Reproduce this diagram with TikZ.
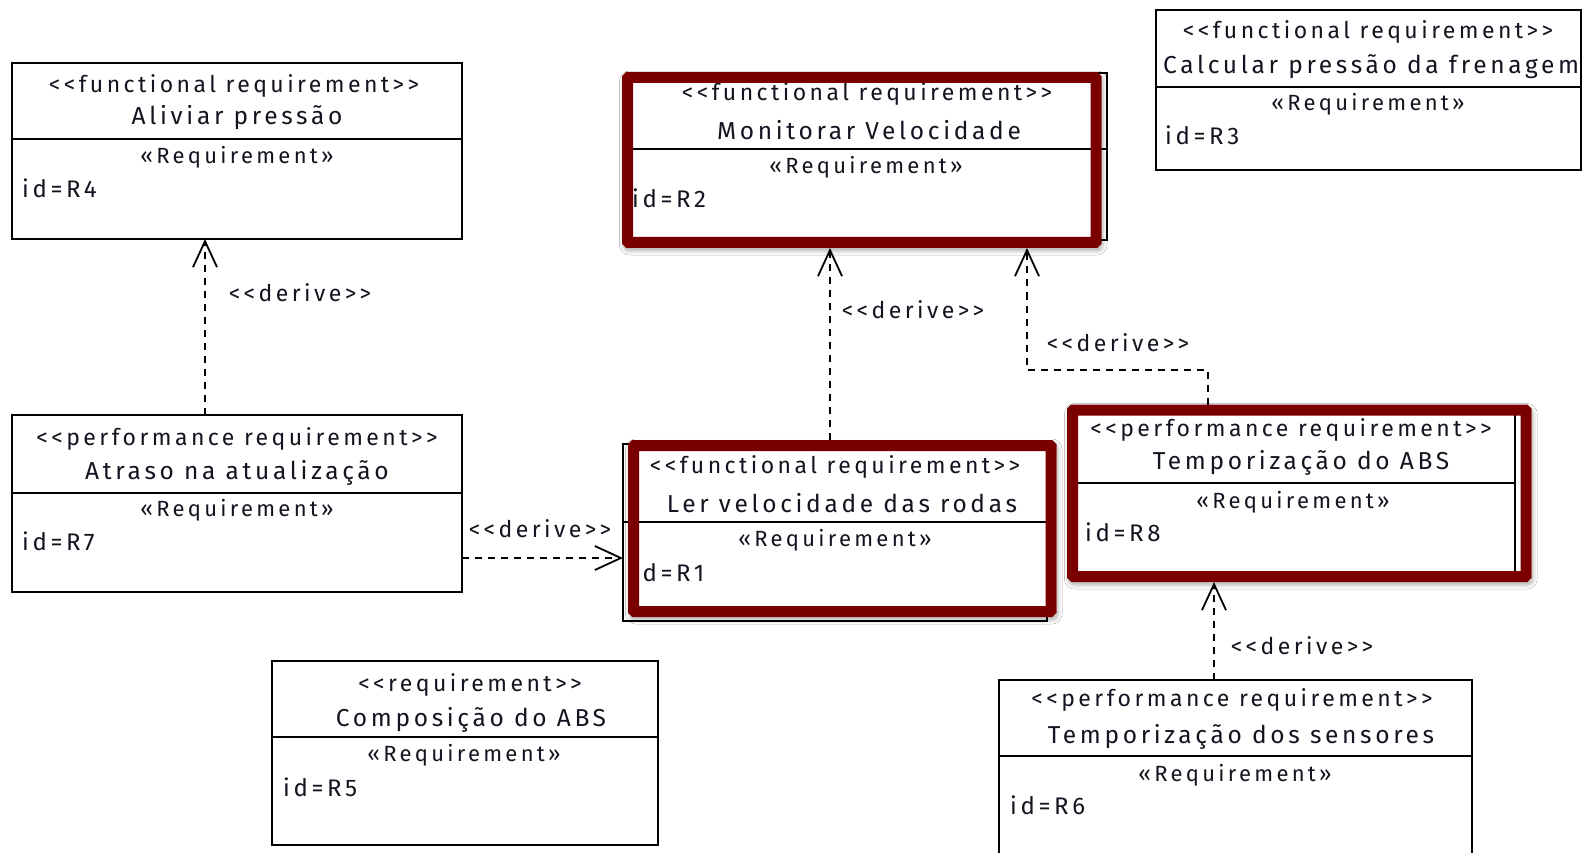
\documentclass[tikz,border=0pt]{standalone}
\usepackage{fontspec}
\setmainfont{Fira Sans}[Ligatures=TeXOff, LetterSpace=15]
\usetikzlibrary{arrows.meta,shadows.blur}
\definecolor{ink}{RGB}{20,20,32}
\definecolor{hlred}{RGB}{122,0,0}
\tikzset{
  reqbox/.style={draw=black, line width=1.8pt, rectangle, inner sep=0pt, outer sep=0pt, anchor=north west},
  boxline/.style={draw=black, line width=1.8pt},
  hlarea/.style={rectangle, fill=white, rounded corners=6pt, inner sep=0pt, outer sep=0pt, anchor=north west,
    blur shadow={shadow xshift=1.5pt, shadow yshift=-3pt, shadow blur radius=4pt, shadow opacity=30}},
  hlframe/.style={draw=hlred, line width=11pt, rounded corners=1pt},
  stereo/.style={text=ink, font=\fontsize{23}{25}\selectfont, inner sep=0pt},
  rtitle/.style={text=ink, font=\fontsize{24.5}{28}\selectfont, inner sep=0pt},
  rkind/.style={text=ink, font=\fontsize{22}{24}\selectfont, inner sep=0pt},
  rid/.style={text=ink, font=\fontsize{24}{26}\selectfont, inner sep=0pt, anchor=west},
  dlabel/.style={text=ink, font=\fontsize{23}{25}\selectfont, inner sep=0pt},
  derive/.style={draw=black, line width=1.8pt, dash pattern=on 7pt off 6pt,
    -{Straight Barb[length=26pt, width=24pt, line width=1.8pt]}},
}
\begin{document}
\begin{tikzpicture}[x=1pt, y=-1pt]
\clip (0,0) rectangle (1583,853);
\fill[white] (0,0) rectangle (1583,853);

% white areas with soft shadows under the highlighted requirements
\node[hlarea, minimum width=479.5pt, minimum height=176pt] (hl2) at (622,72) {};
\node[hlarea, minimum width=428.5pt, minimum height=177pt] (hl1) at (628,440) {};
\node[hlarea, minimum width=464.5pt, minimum height=177.5pt] (hl8) at (1067,404.5) {};

% R4 Aliviar pressao
\node[reqbox, minimum width=450pt, minimum height=176pt] (r4) at (12,63) {};
\draw[boxline] (r4.west |- 0,139) -- (r4.east |- 0,139);
\node[stereo] (r4s) at (234,86) {<<functional requirement>>};
\node[rtitle] (r4t) at (237,118) {Aliviar pressão};
\node[rkind] (r4q) at (237,157) {«Requirement»};
\node[rid] (r4i) at (22,188) {id=R4};

% R2 Monitorar Velocidade
\node[reqbox, minimum width=479pt, minimum height=167pt] (r2) at (628,73) {};
\draw[boxline] (r2.west |- 0,149) -- (r2.east |- 0,149);
\node[stereo] (r2s) at (867,94) {<<functional requirement>>};
\node[rtitle] (r2t) at (869,130) {Monitorar Velocidade};
\node[rkind] (r2q) at (866,167) {«Requirement»};
\node[rid] (r2i) at (632,198) {id=R2};

% R3 Calcular pressao da frenagem
\node[reqbox, minimum width=425pt, minimum height=160pt] (r3) at (1156,10) {};
\draw[boxline] (r3.west |- 0,87) -- (r3.east |- 0,87);
\node[stereo] (r3s) at (1368,32) {<<functional requirement>>};
\node[rtitle, anchor=west] (r3t) at (1163,67) {Calcular pressão da frenagem};
\node[rkind] (r3q) at (1368,104) {«Requirement»};
\node[rid] (r3i) at (1165,135) {id=R3};

% R7 Atraso na atualizacao
\node[reqbox, minimum width=450pt, minimum height=177pt] (r7) at (12,415) {};
\draw[boxline] (r7.west |- 0,493) -- (r7.east |- 0,493);
\node[stereo] (r7s) at (237,439) {<<performance requirement>>};
\node[rtitle] (r7t) at (237,473) {Atraso na atualização};
\node[rkind] (r7q) at (237,510) {«Requirement»};
\node[rid] (r7i) at (22,541) {id=R7};

% R1 Ler velocidade das rodas
\node[reqbox, minimum width=424pt, minimum height=177pt] (r1) at (623,444) {};
\draw[boxline] (r1.west |- 0,522) -- (r1.east |- 0,522);
\node[stereo] (r1s) at (835,467) {<<functional requirement>>};
\node[rtitle] (r1t) at (842,503) {Ler velocidade das rodas};
\node[rkind] (r1q) at (835,540) {«Requirement»};
\node[rid] (r1i) at (632,572) {id=R1};

% R8 Temporizacao do ABS
\node[reqbox, minimum width=443pt, minimum height=166pt] (r8) at (1072,410) {};
\draw[boxline] (r8.west |- 0,483) -- (r8.east |- 0,483);
\node[stereo] (r8s) at (1291,430) {<<performance requirement>>};
\node[rtitle] (r8t) at (1301,463) {Temporização do ABS};
\node[rkind] (r8q) at (1293,502) {«Requirement»};
\node[rid] (r8i) at (1085,532) {id=R8};

% R5 Composicao do ABS
\node[reqbox, minimum width=386pt, minimum height=184pt] (r5) at (272,661) {};
\draw[boxline] (r5.west |- 0,737) -- (r5.east |- 0,737);
\node[stereo] (r5s) at (470,685) {<<requirement>>};
\node[rtitle] (r5t) at (471,720) {Composição do ABS};
\node[rkind] (r5q) at (464,755) {«Requirement»};
\node[rid] (r5i) at (283,787) {id=R5};

% R6 Temporizacao dos sensores
\node[reqbox, minimum width=473pt, minimum height=200pt] (r6) at (999,680) {};
\draw[boxline] (r6.west |- 0,756) -- (r6.east |- 0,756);
\node[stereo] (r6s) at (1232,700) {<<performance requirement>>};
\node[rtitle] (r6t) at (1241,737) {Temporização dos sensores};
\node[rkind] (r6q) at (1235,775) {«Requirement»};
\node[rid] (r6i) at (1010,805) {id=R6};

% dark red highlight frames
\draw[hlframe] ([shift={(5.5pt,-5.5pt)}]hl2.north west) rectangle ([shift={(-5.5pt,5.5pt)}]hl2.south east);
\draw[hlframe] ([shift={(5.5pt,-5.5pt)}]hl1.north west) rectangle ([shift={(-5.5pt,5.5pt)}]hl1.south east);
\draw[hlframe] ([shift={(5.5pt,-5.5pt)}]hl8.north west) rectangle ([shift={(-5.5pt,5.5pt)}]hl8.south east);

% derive dependencies
\coordinate (a7up) at ([xshift=193pt]r7.north west);
\draw[derive] (a7up) -- (a7up |- r4.south);
\node[dlabel] (d74) at (300,293) {<<derive>>};

\coordinate (a7rt) at ([yshift=-143pt]r7.north east);
\draw[derive] (a7rt) -- (a7rt -| r1.west);
\node[dlabel] (d71) at (540,529) {<<derive>>};

\coordinate (a1up) at ([xshift=202pt]hl1.north west);
\draw[derive] (a1up) -- (a1up |- hl2.south);
\node[dlabel] (d12) at (913,310) {<<derive>>};

\coordinate (a8up) at ([xshift=141pt]hl8.north west);
\coordinate (k8) at (1027,370);
\draw[derive] (a8up) -- (a8up |- k8) -- (k8) -- (k8 |- hl2.south);
\node[dlabel] (d82) at (1118,343) {<<derive>>};

\coordinate (a6up) at ([xshift=215pt]r6.north west);
\draw[derive] (a6up) -- (a6up |- hl8.south);
\node[dlabel] (d68) at (1302,646) {<<derive>>};
\end{tikzpicture}
\end{document}
